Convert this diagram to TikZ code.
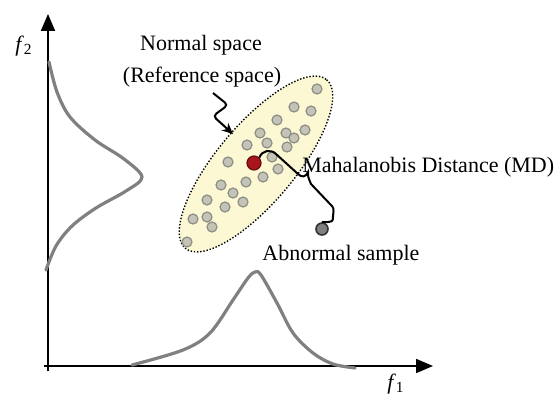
\documentclass[tikz,border=0pt]{standalone}
\usepackage{fontspec}
\setmainfont{Liberation Serif}
\usetikzlibrary{arrows.meta}
\definecolor{normalfill}{HTML}{FBF8D3}
\definecolor{dotfill}{HTML}{C4C3B8}
\definecolor{dotline}{HTML}{8E8D84}
\definecolor{curvegray}{HTML}{808080}
\definecolor{mdred}{HTML}{A8161C}

\begin{document}
\begin{tikzpicture}[x=0.5pt,y=-0.5pt,
  axis/.style={line width=0.9pt,-{Triangle[length=8.5pt,width=7pt]}},
  marginal/.style={curvegray,line width=1.6pt,line join=round,line cap=round},
  sample/.style={circle,fill=dotfill,draw=dotline,line width=0.6pt,inner sep=0pt,minimum size=5pt},
  label/.style={font=\fontsize{11}{13}\selectfont,inner sep=0pt}]
  \useasboundingbox (0,0) rectangle (555,394);

  \coordinate (origin) at (48,366);
  \draw[axis] (48,371) -- (48,14);
  \draw[axis] (44,366) -- (433,366);
  \node[label] (ftwo) at (24,46) {\textit{f}\textsubscript{2}};
  \node[label] (fone) at (396,384) {\textit{f}\textsubscript{1}};

  \draw[marginal] plot[smooth,tension=0.55] coordinates {(49,62) (57,92) (70,117) (95,140) (124,159) (142,177)
    (126,191) (96,208) (72,226) (56,246) (46,270)};
  \draw[marginal] plot[smooth,tension=0.55] coordinates {(132,365) (183,350) (210,333) (233,300) (248,278)
    (255,272) (261,275) (277,303) (293,333) (313,353) (333,364) (355,368)};

  \begin{scope}[shift={(256,164)},rotate=50]
    \draw[fill=normalfill,line width=0.7pt,dash pattern=on 0.7pt off 0.9pt] (0,0) ellipse [x radius=110,y radius=39];
  \end{scope}

  \foreach \p [count=\i] in {(317,89),(294,107),(311,111),(277,120),(305,130),(260,133),(286,133),(294,138),
    (267,143),(247,145),(287,147),(272,157),(228,162),(278,169),(263,177),(246,182),(221,185),(233,193),
    (243,202),(225,207),(207,200),(207,217),(193,219),(212,227),(187,242)}
    \node[sample] (s\i) at \p {};

  \node[circle,fill=mdred,draw=mdred!60!black,line width=0.6pt,inner sep=0pt,minimum size=7pt] (center) at (254,163) {};
  \node[circle,fill=gray,draw=black!80,line width=0.8pt,inner sep=0pt,minimum size=6pt] (abnormal) at (322,229) {};

  \node[label] (normal) at (201,45) {Normal space};
  \node[label] (ref) at (202,77) {(Reference space)};
  \node[label,anchor=west] (md) at (302,167) {Mahalanobis Distance (MD)};
  \node[label,anchor=west] (abn) at (262,255) {Abnormal sample};

  \coordinate (zstart) at (213,93);
  \draw[line width=1pt,rounded corners=2pt,-{Stealth[length=5.5pt,width=5pt]}]
    (zstart) -- (228,105) -- (213,116) -- (233,134);

  \draw[line width=1pt]
    (center.north east) .. controls (262,150) and (271,149) .. (276,154) -- (298,174)
    .. controls (302,178) and (306,177) .. (308,172)
    .. controls (308,177) .. (311,184) -- (330,204)
    .. controls (334,208) .. (333,216)
    .. controls (333,222) .. (abnormal.north);
\end{tikzpicture}
\end{document}
